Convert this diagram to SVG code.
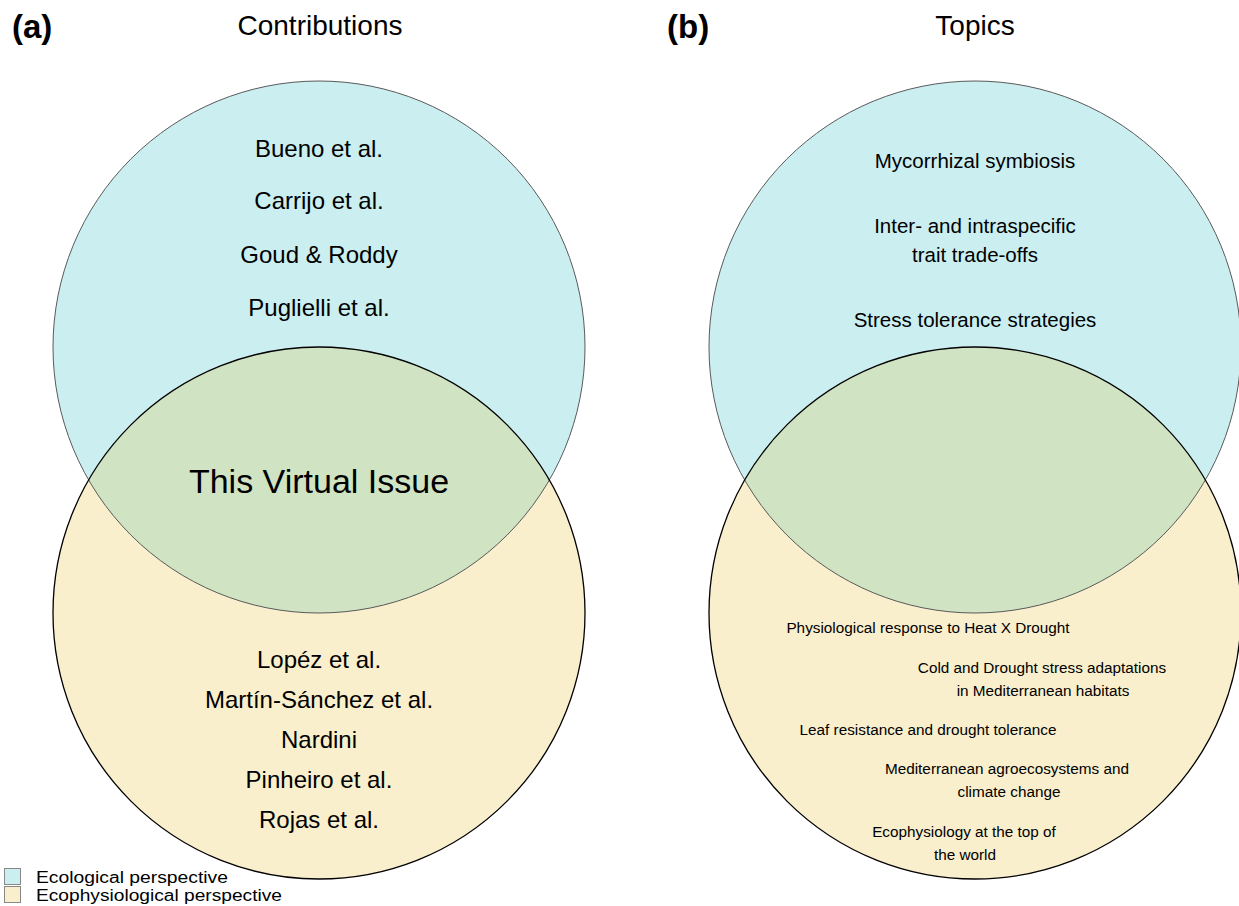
<svg xmlns="http://www.w3.org/2000/svg" width="1239" height="906" viewBox="0 0 1239 906">
<style>
  text { font-family: "Liberation Sans", Arial, sans-serif; fill: #000; }
  .eco { fill: #cbeef0; }
  .phys { fill: #f9efcc; }
  .both { fill: #d0e3c3; }
  .oTop { fill: none; stroke: #5a5a5a; stroke-width: 1; }
  .oBot { fill: none; stroke: #000; stroke-width: 1.3; }
  .title { font-size: 28px; text-anchor: middle; }
  .panel { font-size: 33px; font-weight: bold; }
  .name { font-size: 24px; text-anchor: middle; }
  .topic { font-size: 20.5px; text-anchor: middle; }
  .small { font-size: 15.3px; text-anchor: middle; }
  .leg { font-size: 16px; }
</style>
<rect width="1239" height="906" fill="#fff"/>

<g id="panel-a">
  <text class="panel" x="12" y="38">(a)</text>
  <text class="title" x="320" y="35">Contributions</text>
  <g id="a-ecological">
    <circle class="eco" cx="319" cy="347" r="266"/>
  </g>
  <g id="a-ecophysiological">
    <circle class="phys" cx="319" cy="613" r="266"/>
  </g>
  <g id="a-overlap">
    <path class="both" d="M 88.64 480 A 266 266 0 0 1 549.36 480 A 266 266 0 0 1 88.64 480 Z"/>
  </g>
  <circle class="oTop" cx="319" cy="347" r="266"/>
  <circle class="oBot" cx="319" cy="613" r="266"/>
  <g id="a-eco-labels">
    <text class="name" x="319" y="157">Bueno et al.</text>
    <text class="name" x="319" y="209">Carrijo et al.</text>
    <text class="name" x="319" y="263">Goud &amp; Roddy</text>
    <text class="name" x="319" y="316">Puglielli et al.</text>
  </g>
  <g id="a-overlap-label">
    <text x="319" y="493" font-size="34" text-anchor="middle">This Virtual Issue</text>
  </g>
  <g id="a-phys-labels">
    <text class="name" x="319" y="668">Lopéz et al.</text>
    <text class="name" x="319" y="708">Martín-Sánchez et al.</text>
    <text class="name" x="319" y="748">Nardini</text>
    <text class="name" x="319" y="788">Pinheiro et al.</text>
    <text class="name" x="319" y="828">Rojas et al.</text>
  </g>
</g>

<g id="panel-b">
  <text class="panel" x="667" y="38">(b)</text>
  <text class="title" x="975" y="35">Topics</text>
  <g id="b-ecological">
    <circle class="eco" cx="975" cy="347" r="266"/>
  </g>
  <g id="b-ecophysiological">
    <circle class="phys" cx="975" cy="613" r="266"/>
  </g>
  <g id="b-overlap">
    <path class="both" d="M 744.64 480 A 266 266 0 0 1 1205.36 480 A 266 266 0 0 1 744.64 480 Z"/>
  </g>
  <circle class="oTop" cx="975" cy="347" r="266"/>
  <circle class="oBot" cx="975" cy="613" r="266"/>
  <g id="b-eco-labels">
    <text class="topic" x="975" y="168">Mycorrhizal symbiosis</text>
    <text class="topic" x="975" y="233">Inter- and intraspecific</text>
    <text class="topic" x="975" y="262">trait trade-offs</text>
    <text class="topic" x="975" y="327">Stress tolerance strategies</text>
  </g>
  <g id="b-phys-labels">
    <text class="small" x="928" y="633">Physiological response to Heat X Drought</text>
    <text class="small" x="1042" y="673">Cold and Drought stress adaptations</text>
    <text class="small" x="1043" y="696">in Mediterranean habitats</text>
    <text class="small" x="928" y="735">Leaf resistance and drought tolerance</text>
    <text class="small" x="1007" y="774">Mediterranean agroecosystems and</text>
    <text class="small" x="1009" y="797">climate change</text>
    <text class="small" x="964" y="837">Ecophysiology at the top of</text>
    <text class="small" x="965" y="860">the world</text>
  </g>
</g>

<g id="legend">
  <rect class="eco" x="4.5" y="868.5" width="16" height="16" stroke="#888" stroke-width="1"/>
  <text class="leg" x="36" y="883" textLength="192" lengthAdjust="spacingAndGlyphs">Ecological perspective</text>
  <rect class="phys" x="4.5" y="886.5" width="16" height="16" stroke="#888" stroke-width="1"/>
  <text class="leg" x="36" y="901" textLength="246" lengthAdjust="spacingAndGlyphs">Ecophysiological perspective</text>
</g>
</svg>
